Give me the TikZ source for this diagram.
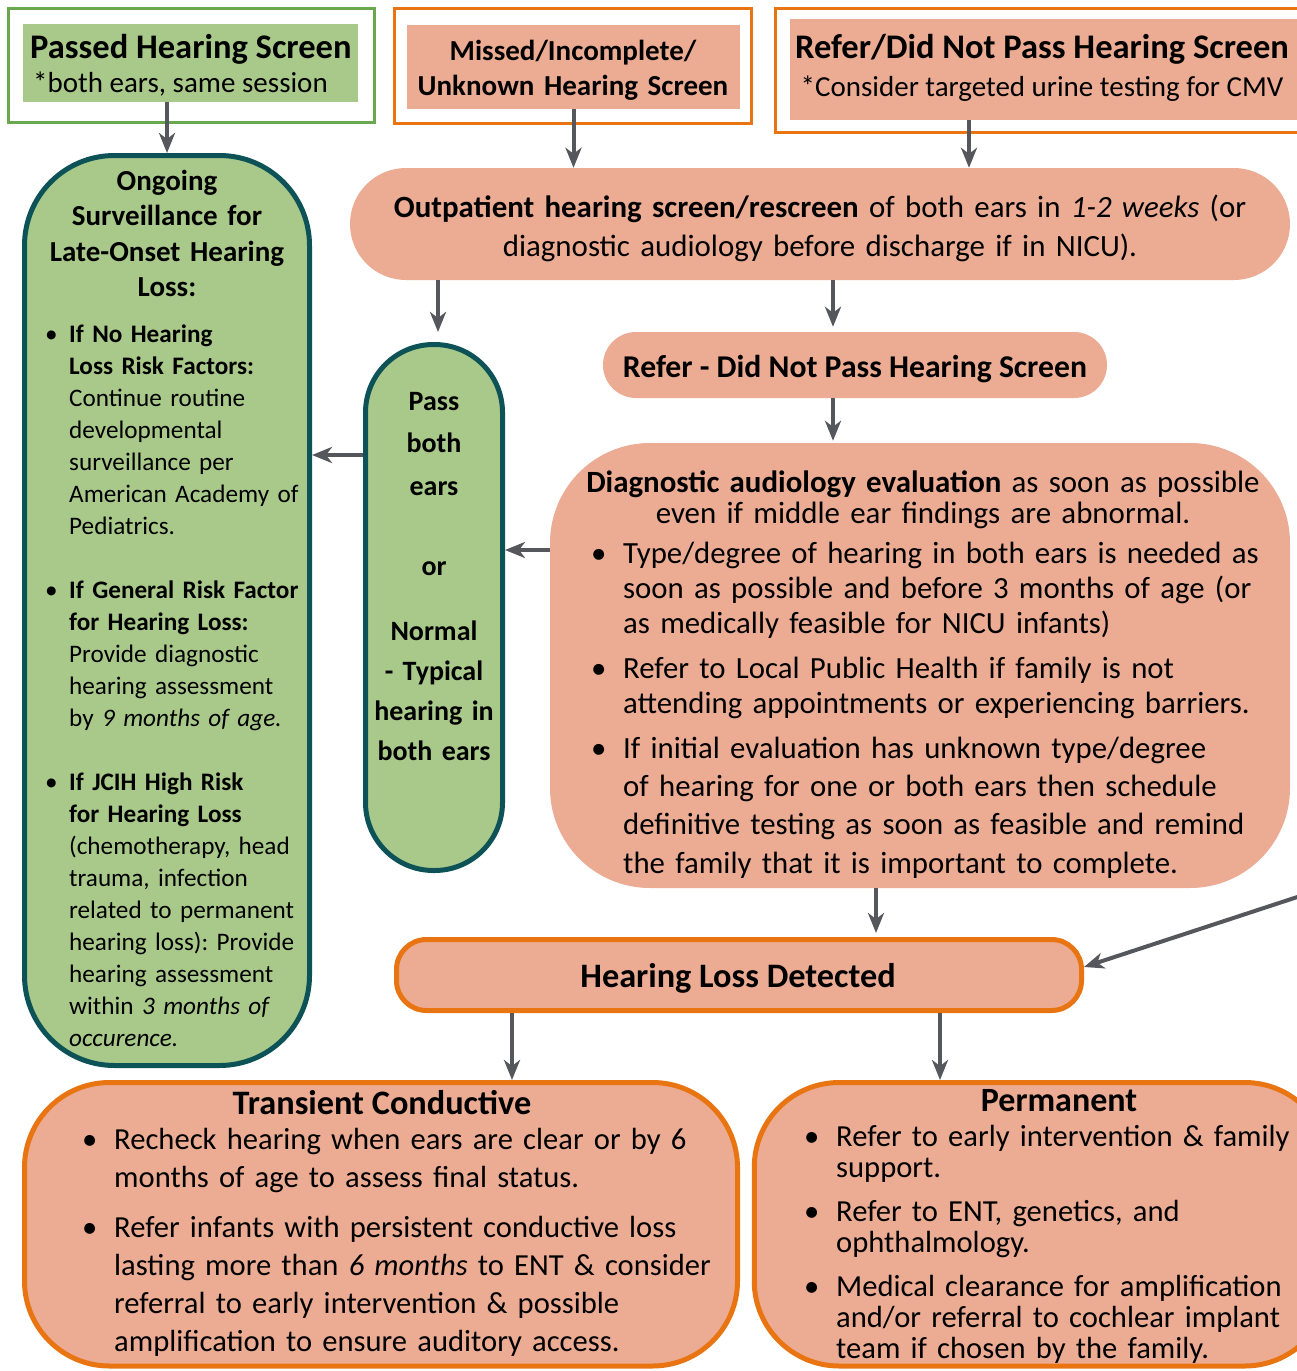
\documentclass[tikz,border=0pt]{standalone}
\usepackage{fontspec}
\setmainfont{Carlito}
\usetikzlibrary{arrows.meta}

\definecolor{salmonfill}{HTML}{ECAC94}
\definecolor{leaffill}{HTML}{A9C98A}
\definecolor{tealline}{HTML}{0D5257}
\definecolor{orangeline}{HTML}{E87511}
\definecolor{greenline}{HTML}{6AA84F}
\definecolor{arrowgray}{HTML}{55575D}

\setlength{\lineskiplimit}{-100pt}
\frenchspacing
\newcommand{\fsz}[2]{\fontsize{#1}{#2}\selectfont}
\newcommand{\bitem}[2][32pt]{\hangindent=#1\hangafter=1\makebox[#1][l]{\textbullet}#2}

\begin{document}
\begin{tikzpicture}[x = 1pt, y = -1pt,
	outerbox/.style = {draw, line width = 3pt, fill = white, inner sep = 0},
	salmonbox/.style = {fill = salmonfill, inner sep = 0},
	greenbox/.style = {fill = leaffill, draw = tealline, line width = 5pt, inner sep = 0},
	orangebox/.style = {salmonbox, draw = orangeline, line width = 5pt},
	txt/.style = {inner sep = 0, text width = #1},
	arr/.style = {draw = arrowgray, line width = 4pt, -{Stealth[length = 20pt, width = 16pt, inset = 6pt]}}]
\useasboundingbox (0, 0) rectangle (1297, 1371);
\fill [white] (0, 0) rectangle (1297, 1371);

% top row
\node [outerbox, draw = greenline, minimum width = 366, minimum height = 114] (passedout) at (191, 65) {};
\node [fill = leaffill, inner sep = 0, minimum width = 335, minimum height = 78] (passedin) at (190.5, 63) {};
\node [outerbox, draw = orangeline, minimum width = 357, minimum height = 115] (missedout) at (572.5, 65.5) {};
\node [salmonbox, minimum width = 333, minimum height = 84] (missedin) at (573.5, 67) {};
\node [outerbox, draw = orangeline, minimum width = 540, minimum height = 124] (referout) at (1045, 70) {};
\node [salmonbox, minimum width = 520, minimum height = 101] (referin) at (1050, 69.5) {};

\node [anchor = base west, inner sep = 0, font = \fsz{34.5}{40}\bfseries] (passedhead) at (30, 58) {Passed Hearing Screen};
\node [anchor = base west, inner sep = 0, font = \fsz{29}{35}] (passedsub) at (33, 92) {*both ears, same session};
\node [txt = 340, align = center, anchor = base, font = \fsz{29}{35}\bfseries] (missedtxt) at (573, 60) {Missed/Incomplete/\\Unknown Hearing Screen};
\node [anchor = base, inner sep = 0, font = \fsz{34.5}{40}\bfseries] (referhead) at (1042, 58) {Refer/Did Not Pass Hearing Screen};
\node [anchor = base, inner sep = 0, font = \fsz{29}{35}] (refersub) at (1042, 96.5) {*Consider targeted urine testing for CMV};

% left column
\node [greenbox, rounded corners = 90, minimum width = 285, minimum height = 910] (ongoing) at (167, 610.5) {};
\node [txt = 280, align = center, anchor = base, font = \fsz{29}{35.5}\bfseries] (ongoingtitle) at (167, 190)
	{Ongoing\\Surveillance for\\Late-Onset Hearing\\Loss:};
\node [txt = 280, align = left, anchor = base west, font = \fsz{25.2}{32}] (ongoingtxt) at (45, 342) {%
	\bitem[24pt]{\textbf{If No Hearing}\newline\textbf{Loss Risk Factors:}\newline Continue routine\newline developmental\newline surveillance per\newline American Academy of\newline Pediatrics.}\par\vspace{32pt}
	\bitem[24pt]{\textbf{If General Risk Factor}\newline\textbf{for Hearing Loss:}\newline Provide diagnostic\newline hearing assessment\newline by \textit{9 months of age.}}\par\vspace{32pt}
	\bitem[24pt]{\textbf{If JCIH High Risk}\newline\textbf{for Hearing Loss}\newline (chemotherapy, head\newline trauma, infection\newline related to permanent\newline hearing loss): Provide\newline hearing assessment\newline within \textit{3 months of}\newline\textit{occurence.}}\par};

% middle
\node [salmonbox, rounded corners = 56, minimum width = 940, minimum height = 112] (outpat) at (820, 224) {};
\node [txt = 940, align = center, anchor = base, font = \fsz{30.9}{39}] (outpattxt) at (820, 217)
	{\textbf{Outpatient hearing screen/rescreen} of both ears in \textit{1-2 weeks} (or\\diagnostic audiology before discharge if in NICU).};

\node [greenbox, rounded corners = 68, minimum width = 137, minimum height = 526] (pass) at (434, 607.5) {};
\node [txt = 140, align = center, anchor = base, font = \fsz{28}{42.5}\bfseries] (passtxt) at (434, 410)
	{Pass\\both\\ears\\[37.5pt]or\\[22.5pt]Normal\\[-2.5pt]- Typical\\[-2.5pt]hearing in\\[-2.5pt]both ears};

\node [salmonbox, rounded corners = 33, minimum width = 504, minimum height = 66] (dnp) at (855, 365) {};
\node [anchor = base, inner sep = 0, font = \fsz{31.7}{38}\bfseries] (dnptxt) at (855, 377) {Refer - Did Not Pass Hearing Screen};

\node [salmonbox, rounded corners = 100, minimum width = 740, minimum height = 445] (diag) at (920, 665.5) {};
\node [txt = 740, align = center, anchor = base, font = \fsz{30.9}{31}] (diagtitle) at (923, 492)
	{\textbf{Diagnostic audiology evaluation} as soon as possible\\even if middle ear findings are abnormal.};
\node [txt = 700, align = left, anchor = base west, font = \fsz{30.8}{35}] (diagtxt) at (591, 563) {%
	\bitem{Type/degree of hearing in both ears is needed as\newline soon as possible and before 3 months of age (or\newline as medically feasible for NICU infants)}\par\vspace{10pt}
	\bitem{Refer to Local Public Health if family is not\newline attending appointments or experiencing barriers.}\par\vspace{7pt}
	\bitem{If initial evaluation has unknown type/degree\newline of hearing for one or both ears then schedule\newline definitive testing as soon as feasible and remind\newline the family that it is important to complete.}\setlength{\baselineskip}{38.3pt}\par};

% bottom
\node [orangebox, rounded corners = 30, minimum width = 685, minimum height = 71] (hld) at (739, 975) {};
\node [anchor = base, inner sep = 0, font = \fsz{34.3}{40}\bfseries] (hldtxt) at (738, 987) {Hearing Loss Detected};

\node [orangebox, rounded corners = 85, minimum width = 713, minimum height = 283.5] (transient) at (381, 1224.25) {};
\node [anchor = base, inner sep = 0, font = \fsz{34.3}{40}\bfseries] (transtitle) at (382, 1114) {Transient Conductive};
\node [txt = 700, align = left, anchor = base west, font = \fsz{30.6}{38}] (transtxt) at (82, 1149) {%
	\bitem{Recheck hearing when ears are clear or by 6\newline months of age to assess final status.}\par\vspace{12pt}
	\bitem{Refer infants with persistent conductive loss\newline lasting more than \textit{6 months} to ENT \& consider\newline referral to early intervention \& possible\newline amplification to ensure auditory access.}\par};

\node [orangebox, rounded corners = 85, minimum width = 575.5, minimum height = 283.5] (permanent) at (1042, 1224.25) {};
\node [anchor = base, inner sep = 0, font = \fsz{34}{40}\bfseries] (permtitle) at (1059, 1111) {Permanent};
\node [txt = 700, align = left, anchor = base west, font = \fsz{30.6}{31}] (permtxt) at (804, 1146) {%
	\bitem{Refer to early intervention \& family\newline support.}\par\vspace{13pt}
	\bitem{Refer to ENT, genetics, and\newline ophthalmology.}\par\vspace{13pt}
	\bitem{Medical clearance for amplification\newline and/or referral to cochlear implant\newline team if chosen by the family.}\par};

% connectors
\coordinate (referx) at (969, 0);
\coordinate (passx) at (438, 0);
\coordinate (dnpx) at (833, 0);
\coordinate (diagx) at (876, 0);
\coordinate (transx) at (512, 0);
\coordinate (permx) at (940, 0);
\coordinate (ongy) at (0, 455);
\coordinate (diagy) at (0, 550);
\coordinate (offpage) at (1340, 883);

\draw [arr] (ongoing.north |- passedin.south) -- (ongoing.north);
\draw [arr] (missedin.south) -- (missedin.south |- outpat.north);
\draw [arr] (referin.south -| referx) -- (outpat.north -| referx);
\draw [arr] (outpat.south -| passx) -- ([yshift = 10pt]pass.north -| passx);
\draw [arr] (outpat.south -| dnpx) -- ([yshift = 5pt]dnp.north -| dnpx);
\draw [arr] (dnp.south -| dnpx) -- ([yshift = 2pt]diag.north -| dnpx);
\draw [arr] (pass.west |- ongy) -- (ongoing.east |- ongy);
\draw [arr] (diag.west |- diagy) -- (pass.east |- diagy);
\draw [arr] (diag.south -| diagx) -- ([yshift = 4pt]hld.north -| diagx);
\draw [arr] (offpage) -- ([yshift = 8pt]hld.east);
\draw [arr] (hld.south -| transx) -- (transient.north -| transx);
\draw [arr] (hld.south -| permx) -- (permanent.north -| permx);
\end{tikzpicture}
\end{document}
